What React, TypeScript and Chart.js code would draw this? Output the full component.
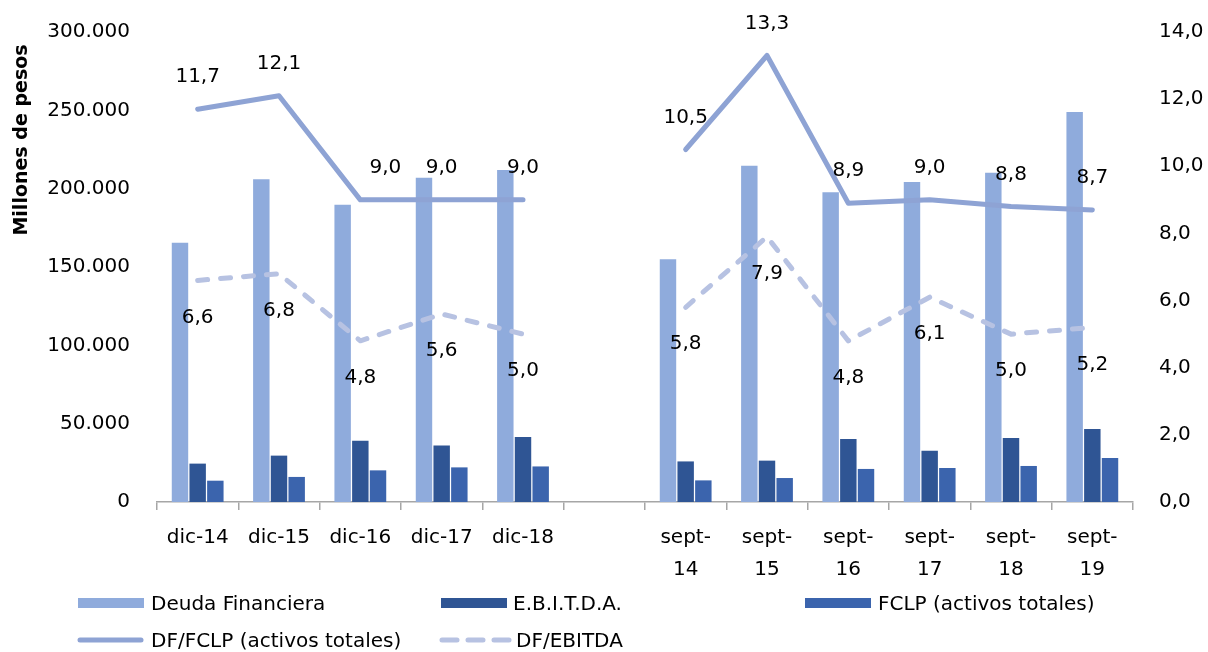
import React, { useEffect, useRef } from "react";
import { Chart, registerables } from "chart.js";

Chart.register(...registerables);

// Periods: year-end closes, a spacer, then September cuts
const categories: (string | string[])[] = [
  "dic-14", "dic-15", "dic-16", "dic-17", "dic-18", "",
  ["sept-", "14"], ["sept-", "15"], ["sept-", "16"], ["sept-", "17"], ["sept-", "18"], ["sept-", "19"],
];

// Millones de pesos
const deudaFinanciera = [165500, 206000, 189800, 207000, 211900, null, 154900, 214700, 197700, 204300, 210200, 248900];
const ebitda = [24500, 29600, 39100, 36000, 41500, null, 25900, 26400, 40200, 32700, 40900, 46600];
const fclp = [13600, 16000, 20200, 22100, 22700, null, 13800, 15300, 21100, 21700, 23000, 28100];

// Ratios (veces)
const dfFclp = [11.7, 12.1, 9.0, 9.0, 9.0, null, 10.5, 13.3, 8.9, 9.0, 8.8, 8.7];
const dfEbitda = [6.6, 6.8, 4.8, 5.6, 5.0, null, 5.8, 7.9, 4.8, 6.1, 5.0, 5.2];

// Axis ranges
const leftMax = 300000;
const leftStep = 50000;
const rightMax = 14;
const rightStep = 2;

const FONT = "'DejaVu Sans', sans-serif";
const C_DEUDA = "#8FABDC";
const C_EBITDA = "#2F5594";
const C_FCLP = "#3B64AD";
const C_LINE = "#8EA3D4";
const C_DASH = "#B7C2E2";

const fmtThousands = (v: number) => String(Math.round(v)).replace(/\B(?=(\d{3})+(?!\d))/g, ".");
const fmtDecimal = (v: number) => v.toFixed(1).replace(".", ",");

// Ratio values written next to each line point
const valueLabels = {
  id: "valueLabels",
  afterDatasetsDraw(chart: any, _args: any, opts: any) {
    const ctx = chart.ctx;
    ctx.save();
    ctx.font = `20px ${FONT}`;
    ctx.fillStyle = "#000";
    ctx.textAlign = "center";
    ctx.textBaseline = "middle";
    chart.data.datasets.forEach((ds: any, di: number) => {
      const conf = opts.series?.[ds.label];
      if (!conf) return;
      const meta = chart.getDatasetMeta(di);
      meta.data.forEach((pt: any, i: number) => {
        const v = ds.data[i];
        if (v == null) return;
        const dx = conf.nudgeX?.[i] ?? 0;
        ctx.fillText(fmtDecimal(v), pt.x + dx, pt.y + conf.offsetY);
      });
    });
    ctx.restore();
  },
};

// Left axis caption, set toward the top of the axis
const axisCaption = {
  id: "axisCaption",
  afterDraw(chart: any, _args: any, opts: any) {
    const ctx = chart.ctx;
    ctx.save();
    ctx.translate(opts.x, opts.y);
    ctx.rotate(-Math.PI / 2);
    ctx.font = `bold 19px ${FONT}`;
    ctx.fillStyle = "#000";
    ctx.textAlign = "center";
    ctx.textBaseline = "middle";
    ctx.fillText(opts.text, 0, 0);
    ctx.restore();
  },
};

function Legend() {
  const text: React.CSSProperties = {
    position: "absolute",
    fontFamily: FONT,
    fontSize: 20,
    color: "#000",
    lineHeight: "24px",
    whiteSpace: "nowrap",
  };
  const rect = (left: number, top: number, color: string): React.CSSProperties => ({
    position: "absolute",
    left,
    top,
    width: 66,
    height: 10,
    background: color,
  });
  return (
    <>
      <div style={rect(78, 598, C_DEUDA)} />
      <div style={{ ...text, left: 151, top: 591 }}>Deuda Financiera</div>
      <div style={rect(441, 598, C_EBITDA)} />
      <div style={{ ...text, left: 513, top: 591 }}>E.B.I.T.D.A.</div>
      <div style={rect(805, 598, C_FCLP)} />
      <div style={{ ...text, left: 878, top: 591 }}>FCLP (activos totales)</div>

      <svg style={{ position: "absolute", left: 70, top: 630, overflow: "visible" }} width={80} height={20}>
        <line x1={10} y1={10} x2={71} y2={10} stroke={C_LINE} strokeWidth={5} strokeLinecap="round" />
      </svg>
      <div style={{ ...text, left: 151, top: 628 }}>DF/FCLP (activos totales)</div>
      <svg style={{ position: "absolute", left: 432, top: 630, overflow: "visible" }} width={80} height={20}>
        <line
          x1={10}
          y1={10}
          x2={77}
          y2={10}
          stroke={C_DASH}
          strokeWidth={5}
          strokeLinecap="round"
          strokeDasharray="15 11"
        />
      </svg>
      <div style={{ ...text, left: 516, top: 628 }}>DF/EBITDA</div>
    </>
  );
}

// Fixed axis widths; tick padding must not push the plot area down
const fixVertical = (width: number) => (scale: any) => {
  scale.width = width;
  scale.paddingTop = 0;
  scale.paddingBottom = 0;
};

export default function App() {
  const canvasRef = useRef<HTMLCanvasElement | null>(null);

  useEffect(() => {
    if (!canvasRef.current) return;
    const chart = new Chart(canvasRef.current, {
      type: "bar",
      data: {
        labels: categories,
        datasets: [
          {
            type: "line",
            label: "DF/FCLP (activos totales)",
            data: dfFclp,
            yAxisID: "y1",
            borderColor: C_LINE,
            backgroundColor: C_LINE,
            borderWidth: 5,
            borderCapStyle: "round",
            borderJoinStyle: "round",
            pointRadius: 0,
            tension: 0,
            order: 0,
          } as any,
          {
            type: "line",
            label: "DF/EBITDA",
            data: dfEbitda,
            yAxisID: "y1",
            borderColor: C_DASH,
            backgroundColor: C_DASH,
            borderWidth: 5,
            borderDash: [10, 13],
            borderCapStyle: "round",
            borderJoinStyle: "round",
            pointRadius: 0,
            tension: 0,
            order: 0,
          } as any,
          {
            label: "Deuda Financiera",
            data: deudaFinanciera,
            yAxisID: "y",
            backgroundColor: C_DEUDA,
            categoryPercentage: 0.652,
            barPercentage: 0.93,
            order: 1,
          },
          {
            label: "E.B.I.T.D.A.",
            data: ebitda,
            yAxisID: "y",
            backgroundColor: C_EBITDA,
            categoryPercentage: 0.652,
            barPercentage: 0.93,
            order: 1,
          },
          {
            label: "FCLP (activos totales)",
            data: fclp,
            yAxisID: "y",
            backgroundColor: C_FCLP,
            categoryPercentage: 0.652,
            barPercentage: 0.93,
            order: 1,
          },
        ],
      },
      options: {
        responsive: false,
        animation: false,
        layout: { padding: { top: 32, left: 0, right: 0, bottom: 0 } },
        plugins: {
          legend: { display: false },
          tooltip: { enabled: false },
          valueLabels: {
            series: {
              "DF/FCLP (activos totales)": { offsetY: -32, nudgeX: { 2: 25 } },
              "DF/EBITDA": { offsetY: 37 },
            },
          },
          axisCaption: { text: "Millones de pesos", x: 22, y: 140 },
        } as any,
        scales: {
          x: {
            offset: true,
            grid: {
              display: true,
              offset: true,
              drawOnChartArea: false,
              drawTicks: true,
              tickLength: 8,
              color: "#A6A6A6",
              lineWidth: 1.5,
            },
            border: { display: true, color: "#A6A6A6", width: 1.5 },
            ticks: {
              color: "#000",
              font: { family: FONT, size: 20, lineHeight: 1.6 },
              padding: 12,
              maxRotation: 0,
              autoSkip: false,
            },
            afterFit: (scale: any) => {
              scale.height = 150;
            },
          },
          y: {
            position: "left",
            min: 0,
            max: leftMax,
            grid: { display: false, drawTicks: false },
            border: { display: false },
            ticks: {
              stepSize: leftStep,
              color: "#000",
              font: { family: FONT, size: 20 },
              padding: 27,
              callback: (v: any) => fmtThousands(Number(v)),
            },
            afterFit: fixVertical(157),
          },
          y1: {
            position: "right",
            min: 0,
            max: rightMax,
            grid: { display: false, drawTicks: false },
            border: { display: false },
            ticks: {
              stepSize: rightStep,
              color: "#000",
              font: { family: FONT, size: 20 },
              padding: 26,
              callback: (v: any) => fmtDecimal(Number(v)),
            },
            afterFit: fixVertical(75),
          },
        },
      },
      plugins: [valueLabels, axisCaption],
    });
    return () => chart.destroy();
  }, []);

  return (
    <div style={{ position: "fixed", left: 0, top: 0, width: 1208, height: 652, background: "#fff" }}>
      <canvas ref={canvasRef} width={1208} height={652} style={{ position: "absolute", left: 0, top: 0 }} />
      <Legend />
    </div>
  );
}
